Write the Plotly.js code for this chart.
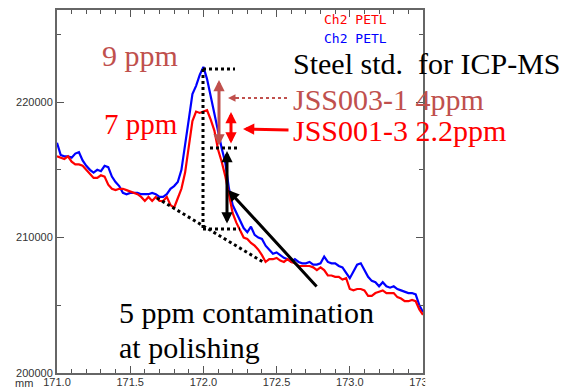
<!DOCTYPE html>
<html>
<head>
<meta charset="utf-8">
<script src="https://cdn.plot.ly/plotly-3.0.1.min.js"></script>
<style>html,body{margin:0;padding:0;background:#fff;}#chart{width:579px;height:388px;}</style>
</head>
<body>
<div id="chart"></div>
<script>
// Position along the scan (mm)
const positionMm = [
171.000,171.025,171.050,171.075,171.100,171.125,171.150,171.175,171.200,171.225,
171.250,171.275,171.300,171.325,171.350,171.375,171.400,171.425,171.450,171.475,
171.500,171.525,171.550,171.575,171.600,171.625,171.650,171.675,171.700,171.725,
171.750,171.775,171.800,171.825,171.850,171.875,171.900,171.925,171.950,171.975,
172.000,172.025,172.050,172.075,172.100,172.125,172.150,172.175,172.200,172.225,
172.250,172.275,172.300,172.325,172.350,172.375,172.400,172.425,172.450,172.475,
172.500,172.525,172.550,172.575,172.600,172.625,172.650,172.675,172.700,172.725,
172.750,172.775,172.800,172.825,172.850,172.875,172.900,172.925,172.950,172.975,
173.000,173.025,173.050,173.075,173.100,173.125,173.150,173.175,173.200,173.225,
173.250,173.275,173.300,173.325,173.350,173.375,173.400,173.425,173.450,173.475,
173.500];

// Ch2 PETL (blue)
const blueCounts = [
217000,216100,216000,216000,215900,216200,216300,215700,215300,215000,
214800,215000,214900,215300,215200,214500,214100,213800,213300,213200,
213300,213300,213300,213200,213200,213200,213300,213200,213000,213000,
213200,213600,213800,214100,215000,216700,218700,220600,221200,222000,
222600,221700,220400,219300,217800,216600,215500,213600,212400,211800,
211300,210700,210400,210800,210200,210000,209900,209400,209100,208800,
208900,208700,208500,208400,208200,208400,208200,208100,208100,208200,
208000,208000,208100,208600,208200,208100,208100,207900,207800,207400,
207000,207500,208000,208100,207600,207100,206800,206700,206400,206700,
206400,206300,206400,206200,206100,206000,205900,205900,205800,205000,
204500];

// Ch2 PETL (red)
const redCounts = [
216000,215900,215800,216000,215600,215400,215400,215300,215000,214700,
214400,214400,214600,214500,213900,213600,213500,213600,213600,213500,
213400,213300,213200,213000,212700,213000,212700,213000,212700,212700,
213000,212400,212200,212900,213600,214800,216800,218600,219300,219200,
219300,219400,218700,217900,216500,215600,214500,213000,211800,211100,
210600,210000,209900,209600,209400,209100,208700,208200,208400,208400,
208500,208300,208200,208400,208200,208100,207900,207900,207900,207900,
207800,207600,207800,207600,207200,207200,207100,207100,206900,207000,
206200,206100,206200,206200,206100,205700,205700,205900,206000,206100,
205900,205900,205900,205600,205500,205300,205300,205400,205300,204700,
204300];

const seriesNames = ['Ch2 PETL', 'Ch2 PETL'];
const xRange = [171, 173.5];
const yRange = [200000, 226800];

// plot-area pixel frame used only to place the overlay drawings
const L = 57, R = 423, T = 10, B = 373;
function dx(p){ return xRange[0] + (p - L) / (R - L) * (xRange[1] - xRange[0]); }
function dy(p){ return yRange[0] + (B - p) / (B - T) * (yRange[1] - yRange[0]); }
function px(p){ return (p - L) / (R - L); }
function py(p){ return (B - p) / (B - T); }

const BROWN = '#C0504D', RED = '#FF0000', BLUE = '#0000FF';
const SERIF = 'Liberation Serif, Times New Roman, serif';

const traces = [
  {x: positionMm, y: blueCounts, name: seriesNames[1], type: 'scatter', mode: 'lines',
   line: {color: BLUE, width: 2.2}},
  {x: positionMm, y: redCounts, name: seriesNames[0], type: 'scatter', mode: 'lines',
   line: {color: RED, width: 2.2}}
];

function dotLine(x0, y0, x1, y1){
  return {type: 'line', xref: 'x', yref: 'y', x0: dx(x0), y0: dy(y0), x1: dx(x1), y1: dy(y1),
          line: {color: '#000', width: 3, dash: '3px,3px'}};
}

const shapes = [
  dotLine(203, 69, 235, 69),
  dotLine(203, 69, 203, 228),
  dotLine(203, 229, 240, 229),
  dotLine(210, 148, 237, 148),
  dotLine(157, 198, 263, 262),
  {type: 'line', xref: 'x', yref: 'y', x0: dx(236), y0: dy(98), x1: dx(290), y1: dy(98),
   line: {color: BROWN, width: 2, dash: '3px,3px'}},
  // mask that cuts the last tick label at the frame, as in the original
  {type: 'rect', xref: 'paper', yref: 'paper', x0: 1.006, x1: 1.3, y0: -0.09, y1: -0.004,
   fillcolor: '#fff', line: {width: 0}, layer: 'above'}
];

function arrow(tipX, tipY, tailX, tailY, color, width, both){
  const a = {xref: 'x', yref: 'y', axref: 'x', ayref: 'y',
    x: dx(tipX), y: dy(tipY), ax: dx(tailX), ay: dy(tailY),
    text: '', showarrow: true, arrowhead: 2, arrowsize: 0.75, arrowwidth: width,
    arrowcolor: color, standoff: 0};
  if (both){ a.arrowside = 'end+start'; a.startarrowhead = 2; a.startarrowsize = 0.75; a.startstandoff = 0; }
  return a;
}

function label(text, x, y, color, size, family, anchor){
  return {xref: 'paper', yref: 'paper', x: px(x), y: py(y), text: text, showarrow: false,
          xanchor: anchor || 'left', yanchor: 'middle',
          font: {family: family, size: size, color: color}};
}

const annotations = [
  arrow(219, 80, 219, 147, BROWN, 3, true),
  arrow(231, 112, 231, 145, RED, 3, true),
  arrow(227, 151, 227, 225, '#000', 3, true),
  arrow(228, 98, 238, 98, BROWN, 2, false),
  arrow(243, 129, 290, 130, RED, 3, false),
  arrow(228, 190, 318, 288, '#000', 3, false),
  label(seriesNames[0], 322, 20, RED, 13, 'DejaVu Sans Mono, monospace'),
  label(seriesNames[1], 322, 38, BLUE, 13, 'DejaVu Sans Mono, monospace'),
  label('9 ppm', 100, 56, BROWN, 30, SERIF),
  label('7 ppm', 102, 124, RED, 29, SERIF),
  label('Steel std. &nbsp;for ICP-MS', 291, 63, '#000', 30, SERIF),
  label('JSS003-1 4ppm', 291, 100, BROWN, 30, SERIF),
  label('JSS001-3 2.2ppm', 291, 130, RED, 30, SERIF),
  label('5 ppm contamination', 117, 312, '#000', 30, SERIF),
  label('at polishing', 117, 347, '#000', 30, SERIF),
  label('mm', 13, 383, '#333', 11, 'Liberation Sans, Arial, sans-serif')
];

const axisCommon = {
  showline: true, linecolor: '#666', linewidth: 2, mirror: 'ticks',
  ticks: 'inside', ticklen: 7, tickwidth: 1, tickcolor: '#555',
  showgrid: false, zeroline: false,
  tickfont: {family: 'Liberation Sans, Arial, sans-serif', size: 11, color: '#333'}
};

const layout = {
  width: 579, height: 388,
  margin: {l: L, r: 579 - R, t: T, b: 388 - B, pad: 0},
  paper_bgcolor: '#fff', plot_bgcolor: '#fff',
  showlegend: false,
  xaxis: Object.assign({}, axisCommon, {range: xRange, tick0: 171, dtick: 0.5, tickformat: '.1f',
    ticklabelstandoff: -2,
    minor: {dtick: 0.1, ticks: 'inside', ticklen: 4, tickcolor: '#555'}}),
  yaxis: Object.assign({}, axisCommon, {range: yRange, tick0: 200000, dtick: 10000, tickformat: 'd',
    minor: {dtick: 5000, ticks: 'inside', ticklen: 4, tickcolor: '#555'}}),
  shapes: shapes,
  annotations: annotations
};

Plotly.newPlot('chart', traces, layout, {staticPlot: true, displayModeBar: false});
</script>
</body>
</html>
